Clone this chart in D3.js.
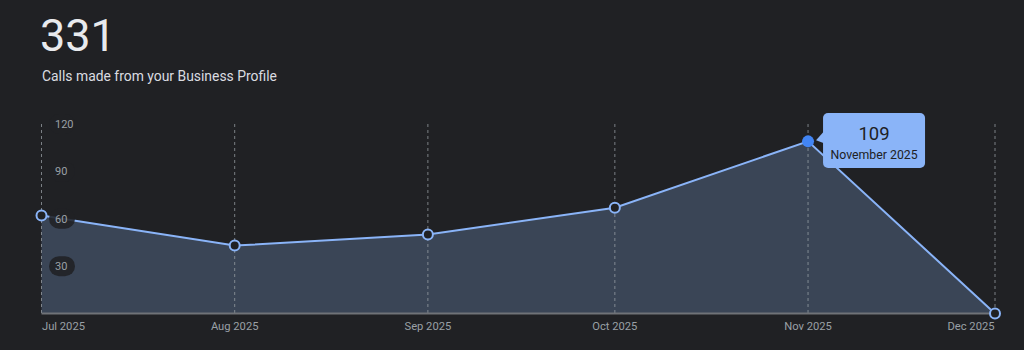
<!DOCTYPE html>
<html><head><meta charset="utf-8">
<script src="https://cdn.jsdelivr.net/npm/d3@7"></script>
<style>
html,body{margin:0;padding:0;background:#202124;}
svg{display:block;font-family:Roboto,"Noto Sans",sans-serif;}
</style></head><body>
<svg id="c" width="1024" height="350"></svg>
<script>
const months = ["2025-07-01","2025-08-01","2025-09-01","2025-10-01","2025-11-01","2025-12-01"];
const monthLabels = ["Jul 2025","Aug 2025","Sep 2025","Oct 2025","Nov 2025","Dec 2025"];
const calls = [62, 43, 50, 67, 109, 0];
const yTicks = [30, 60, 90, 120];
const total = "331";
const subtitle = "Calls made from your Business Profile";
const tipValue = "109";
const tipLabel = "November 2025";
const highlightIndex = 4;

const parse = d3.timeParse("%Y-%m-%d");
const data = months.map((m,i)=>({date:parse(m), v:calls[i], label:monthLabels[i]}));

const svg = d3.select("#c");
svg.append("rect").attr("width",1024).attr("height",350).attr("fill","#202124");

const x = d3.scaleTime().domain(d3.extent(data,d=>d.date)).range([41.5,995]);
const y = d3.scaleLinear().domain([0,120]).range([313.5,124]);

svg.append("text").attr("x",40).attr("y",51).attr("font-size",45).attr("font-weight",400)
  .attr("fill","#e8eaed").text(total);
svg.append("text").attr("x",42).attr("y",81).attr("font-size",13.9)
  .attr("fill","#dadce0").text(subtitle);

// area
svg.append("path").datum(data)
  .attr("d", d3.area().x(d=>x(d.date)).y0(y(0)).y1(d=>y(d.v)))
  .attr("fill","#3a4556");

// gridlines
svg.append("g").selectAll("line").data(data).join("line")
  .attr("x1",d=>x(d.date)).attr("x2",d=>x(d.date))
  .attr("y1",y(120)).attr("y2",y(0))
  .attr("stroke","#9aa0a6").attr("stroke-opacity",0.75).attr("stroke-width",1)
  .attr("stroke-dasharray","3,3");

// baseline
svg.append("line").attr("x1",x(data[0].date)).attr("x2",x(data[5].date))
  .attr("y1",y(0)).attr("y2",y(0)).attr("stroke","#6f7277").attr("stroke-width",2);

// line
svg.append("path").datum(data)
  .attr("d", d3.line().x(d=>x(d.date)).y(d=>y(d.v)))
  .attr("fill","none").attr("stroke","#8ab4f8").attr("stroke-width",2);

// y tick labels with pills (drawn over line)
const yg = svg.append("g").selectAll("g").data(yTicks).join("g")
  .attr("transform",d=>`translate(0,${y(d)})`);
yg.append("rect").attr("x",49).attr("y",-10).attr("width",26).attr("height",20).attr("rx",10)
  .attr("fill","#202124").attr("fill-opacity",0.88);
yg.append("text").attr("x",55).attr("y",4).attr("font-size",11).attr("fill","#9aa0a6").text(d=>d);

// x labels
const n = data.length;
svg.append("g").selectAll("text").data(data).join("text")
  .attr("x",(d,i)=>i===0 ? x(d.date)+0.5 : (i===n-1 ? x(d.date)-0.5 : x(d.date)))
  .attr("y",330)
  .attr("text-anchor",(d,i)=>i===0 ? "start" : (i===n-1 ? "end" : "middle"))
  .attr("font-size",11.2).attr("fill","#9aa0a6").text(d=>d.label);

// dots
svg.append("g").selectAll("circle").data(data.filter((d,i)=>i!==highlightIndex)).join("circle")
  .attr("cx",d=>x(d.date)).attr("cy",d=>y(d.v)).attr("r",5)
  .attr("fill","#202124").attr("stroke","#8ab4f8").attr("stroke-width",2);
const h = data[highlightIndex];
svg.append("circle").attr("cx",x(h.date)).attr("cy",y(h.v)).attr("r",6).attr("fill","#4285f4");

// tooltip
const tx = x(h.date)+15, ty = 113, tw = 102, th = 55;
const tip = svg.append("g");
tip.append("path").attr("d",`M${tx+1},${y(h.v)-10} L${x(h.date)+8},${y(h.v)-1} L${tx+1},${y(h.v)+2} Z`).attr("fill","#8ab4f8");
tip.append("rect").attr("x",tx).attr("y",ty).attr("width",tw).attr("height",th).attr("rx",5).attr("fill","#8ab4f8");
tip.append("text").attr("x",tx+tw/2).attr("y",ty+27).attr("text-anchor","middle").attr("font-size",18.5)
  .attr("fill","#202124").text(tipValue);
tip.append("text").attr("x",tx+tw/2).attr("y",ty+46).attr("text-anchor","middle").attr("font-size",12.3)
  .attr("fill","#202124").text(tipLabel);
</script></body></html>
